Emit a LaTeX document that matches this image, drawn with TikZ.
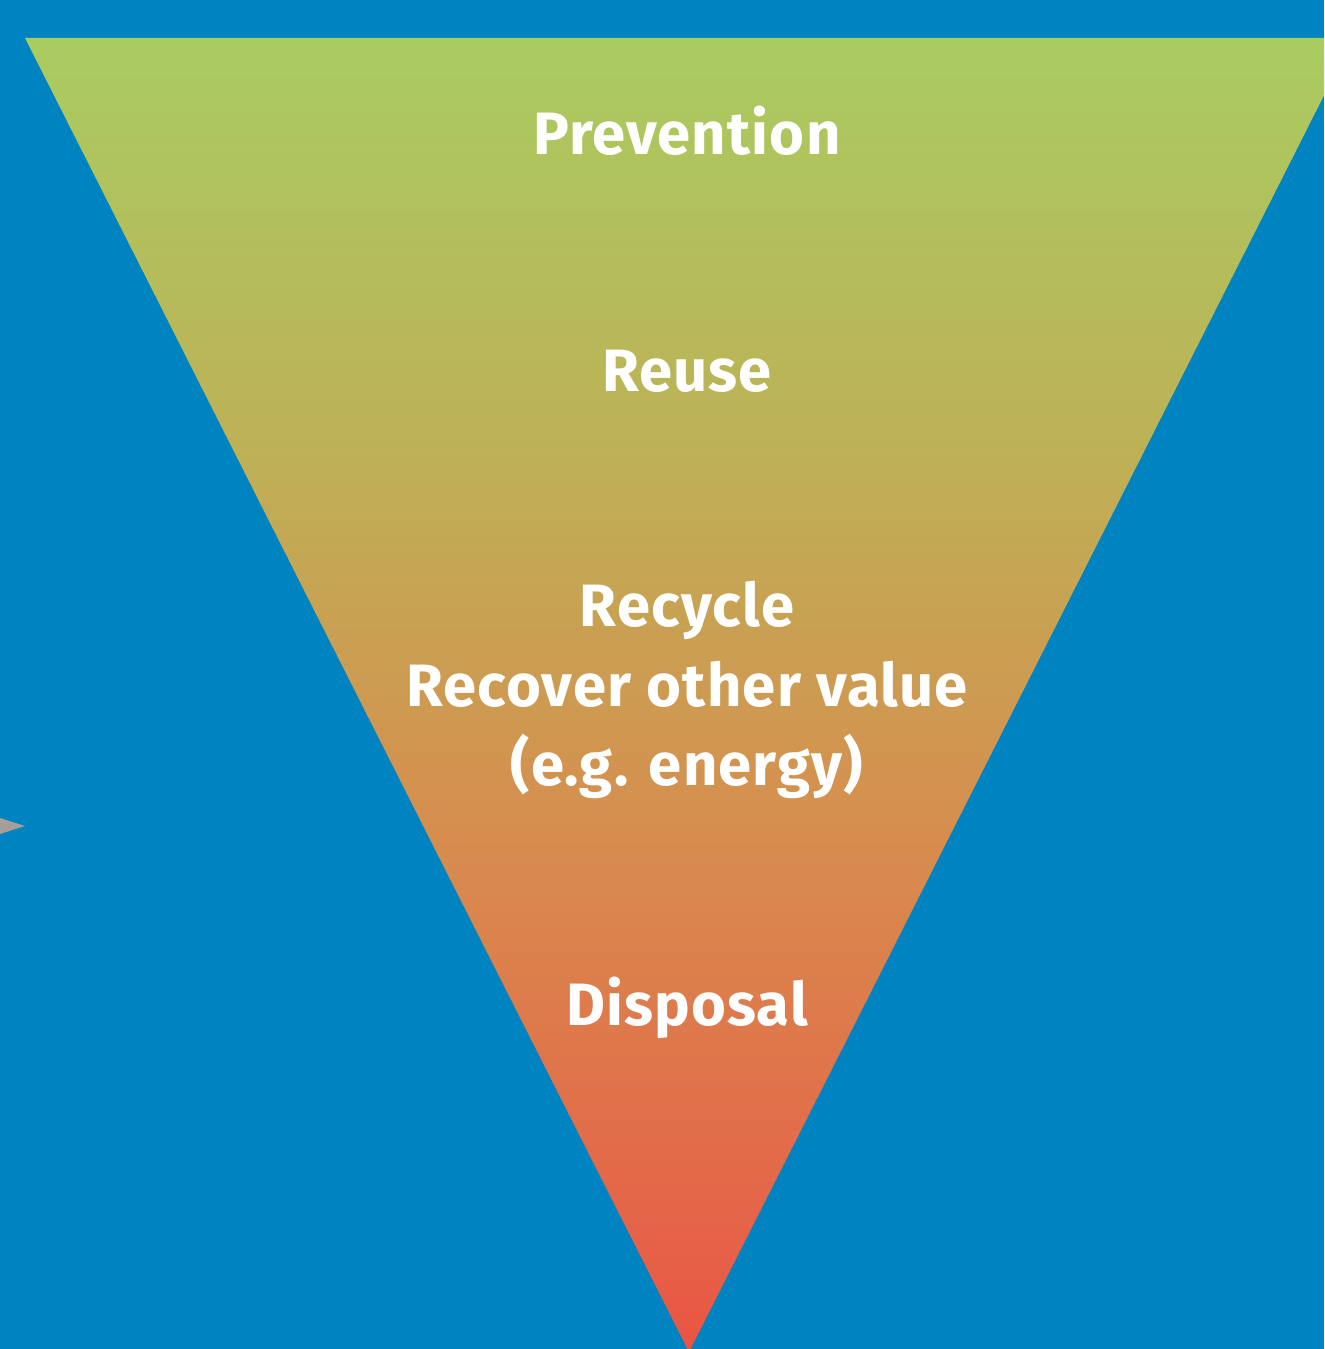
\documentclass[tikz,border=0pt]{standalone}
\usepackage{fontspec}
\setmainfont{Fira Sans}
\definecolor{bgblue}{RGB}{0,131,193}
\definecolor{wgA}{RGB}{169,204,96}
\definecolor{wgB}{RGB}{190,176,86}
\definecolor{wgC}{RGB}{216,139,78}
\definecolor{wgD}{RGB}{230,96,72}
\definecolor{wgE}{RGB}{233,84,66}
\definecolor{pointergray}{RGB}{168,158,152}
\pgfdeclareverticalshading{hierarchy}{100bp}{%
  color(0bp)=(wgE); color(25bp)=(wgE); color(28.5bp)=(wgD);
  color(43.72bp)=(wgC); color(58.94bp)=(wgB); color(75bp)=(wgA);
  color(100bp)=(wgA)}
\tikzset{
  level/.style={text=white,
    font=\fontsize{17}{22.5}\selectfont\bfseries\addfontfeature{LetterSpace=2},
    align=center, inner sep=0pt},
}
\begin{document}
\begin{tikzpicture}[x=0.01cm, y=-0.01cm]
  % background
  \fill[bgblue] (0,0) rectangle (1324,1349);
  \useasboundingbox (0,0) rectangle (1324,1349);
  % inverted triangle of the waste hierarchy
  \begin{scope}
    \clip (0,0) rectangle (1324,1349);
    \shade[shading=hierarchy] (25,38) -- (1353,38) -- (689,1352) -- cycle;
  \end{scope}
  % small pointer on the left edge
  \fill[pointergray] (0,818) -- (25,826) -- (0,834) -- cycle;
  % levels
  \node[level, anchor=base] (prev) at (687,155) {Prevention};
  \node[level, anchor=base] (reuse) at (687,392) {Reuse};
  \node[level] (recyc) at (687,690) {Recycle\\Recover other value\\(e.g. energy)};
  \node[level, anchor=base] (disp) at (687,1025) {Disposal};
\end{tikzpicture}
\end{document}
